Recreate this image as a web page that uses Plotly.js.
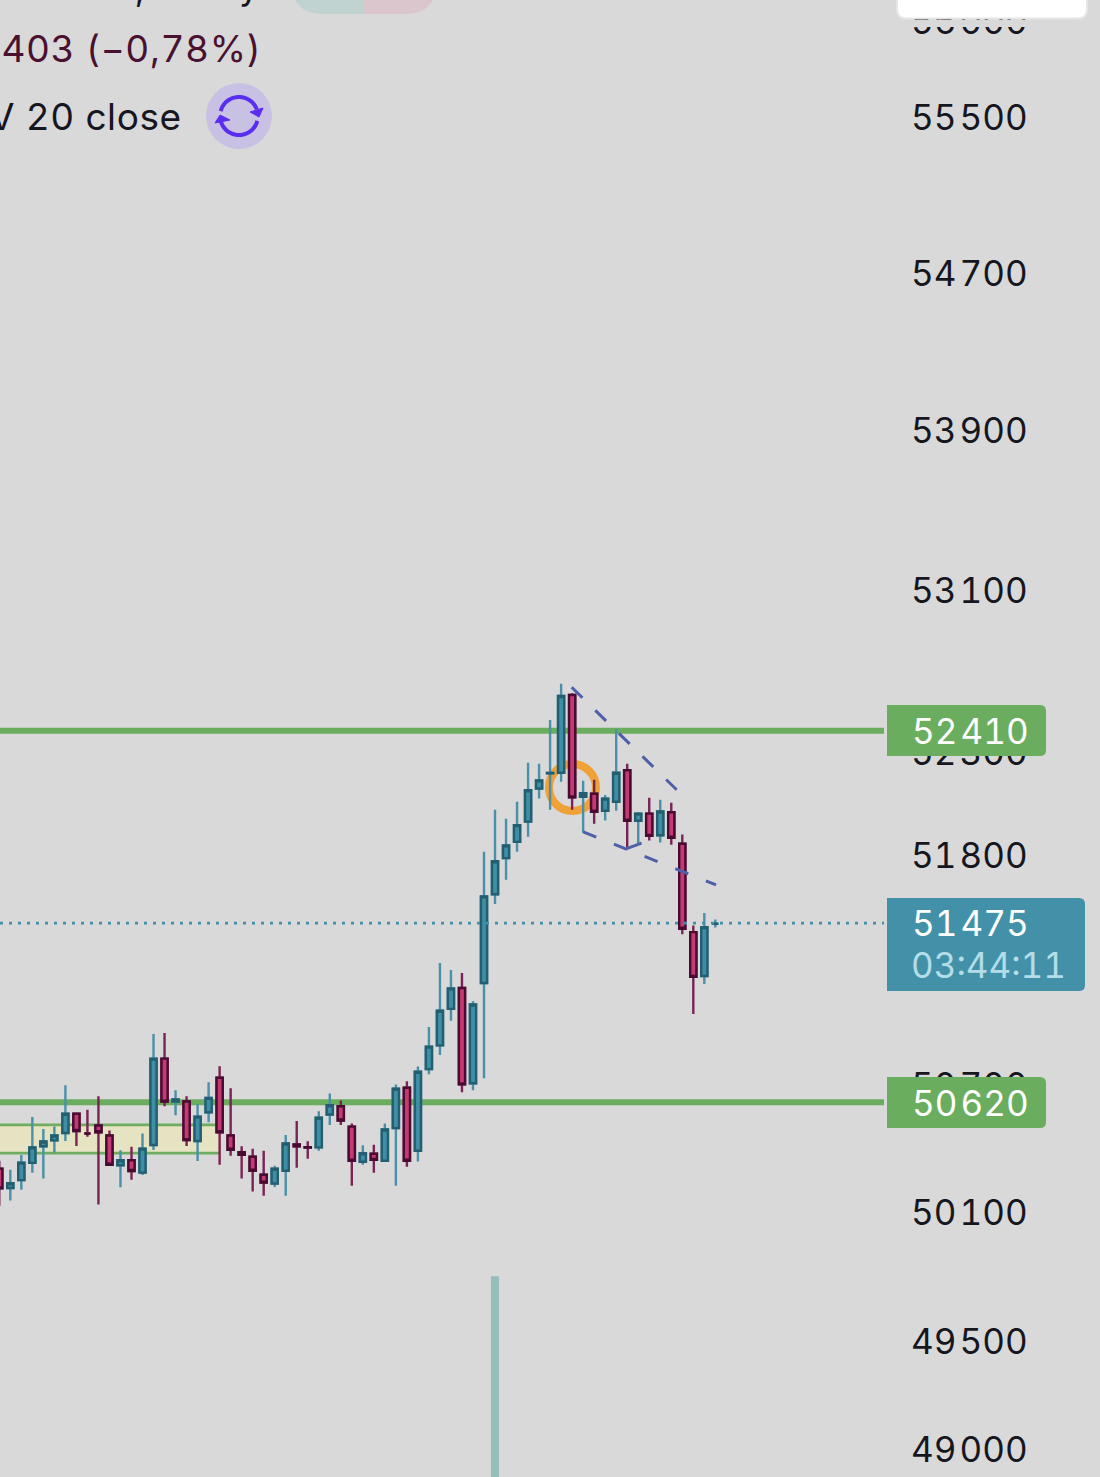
<!DOCTYPE html>
<html><head><meta charset="utf-8">
<script src="https://cdn.plot.ly/plotly-3.0.1.min.js"></script>
<style>html,body{margin:0;padding:0;background:#d9d9d9;overflow:hidden}#c{width:1100px;height:1477px}
svg text{font-variant-numeric:tabular-nums;font-feature-settings:"tnum" 1}
.annotation[data-index="4"] .annotation-text,.annotation[data-index="5"] .annotation-text{letter-spacing:0.6px}</style>
</head><body><div id="c"></div>
<script>
const high=[50344,50302,50371,50550,50494,50506,50701,50572,50585,50648,50487,50394,50410,50473,50944,50949,50677,50648,50611,50715,50791,50686,50412,50400,50391,50321,50465,50531,50436,50577,50662,50629,50520,50417,50419,50520,50704,50720,50790,50978,51284,51250,51236,51101,51820,52024,51980,52063,52253,52248,52462,52641,52594,52165,52170,52096,52418,52248,52013,52082,52073,52058,51903,51464,51524,51493];
const low=[50133,50157,50208,50288,50261,50383,50437,50413,50457,50139,50319,50219,50255,50277,50395,50601,50559,50413,50343,50526,50325,50368,50260,50200,50180,50220,50180,50311,50354,50391,50513,50513,50227,50325,50288,50338,50227,50316,50340,50753,50844,51007,50667,50677,50734,51567,51684,51820,51893,52078,52024,52160,52024,51912,51956,51971,52019,51840,51854,51874,51865,51854,51422,51040,51183,51454];
const open=[50313,50210,50247,50328,50406,50434,50469,50572,50467,50516,50469,50317,50352,50282,50412,50833,50617,50630,50431,50567,50742,50469,50390,50369,50284,50231,50291,50427,50414,50401,50556,50607,50511,50333,50383,50338,50492,50695,50385,50771,50884,51058,51170,50704,51182,51608,51783,51862,51960,52121,52196,52198,52591,52081,52108,52013,52057,52222,51964,52011,51894,52018,51865,51438,51215,51470];
const close=[50208,50244,50341,50413,50441,50469,50572,50478,50478,50472,50319,50352,50290,50407,50833,50617,50639,50435,50558,50647,50472,50390,50366,50291,50235,50312,50431,50406,50400,50553,50612,50528,50338,50385,50342,50497,50690,50338,50771,50890,51061,51168,50699,51091,51610,51780,51857,51955,52125,52173,52209,52586,52078,52110,52008,52084,52210,51964,52011,51891,52021,51882,51442,51211,51462,51475];
const candleIndex=high.map((_,i)=>i);
const levelA=52410, levelB=50620, lastPrice=51475;
const zoneTop=50513, zoneBottom=50380, zoneEnd=20;
const trendUpperX=[51.96,61.49], trendUpperY=[52623,52121];
const trendLowerX=[53.01,65.06], trendLowerY=[51916,51660];
const trendStubX=[56.95,58.3], trendStubY=[51835,51862];
const volumeX=[45], volumeY=[13.6];
const tickVals=[56000,55500,54700,53900,53100,52300,51800,50700,50100,49500,49000];
const tickText=tickVals.map(tickLabel);
function tickLabel(v){return String(v).slice(0,2)+'\u200A'+String(v).slice(2);}

const W=1100,H=1477,PW=884,STEP=11.016;
const px=x=>x/PW, py=y=>1-y/H;
const xLeft=0.7/STEP, xRight=(PW+0.7)/STEP;
const font='Inter, "Noto Sans", sans-serif';

function rr(x0,y0,x1,y1,rl,rr_){
  return `M${px(x0+rl)},${py(y0)} L${px(x1-rr_)},${py(y0)} Q${px(x1)},${py(y0)} ${px(x1)},${py(y0+rr_)} L${px(x1)},${py(y1-rr_)} Q${px(x1)},${py(y1)} ${px(x1-rr_)},${py(y1)} L${px(x0+rl)},${py(y1)} Q${px(x0)},${py(y1)} ${px(x0)},${py(y1-rl)} L${px(x0)},${py(y0+rl)} Q${px(x0)},${py(y0)} ${px(x0+rl)},${py(y0)} Z`;
}
function poly(p,close_){return p.map((q,i)=>(i?'L':'M')+px(q[0])+','+py(q[1])).join(' ')+(close_?' Z':'');}
function arc(cx,cy,r,a0,a1){const p=[];for(let k=0;k<=24;k++){const a=(a0+(a1-a0)*k/24)*Math.PI/180;p.push([cx+r*Math.cos(a),cy-r*Math.sin(a)]);}return p;}
const paper={xref:'paper',yref:'paper'};
const shp=(o)=>Object.assign({},paper,{layer:'above',line:{width:0}},o);
const dataBelow=(y0,y1,x0,x1,o)=>Object.assign({xref:'x',yref:'y',layer:'below',type:y0===y1?'line':'rect',x0,x1,y0,y1},o);
const shapes=[
  dataBelow(zoneBottom,zoneTop,xLeft,zoneEnd,{fillcolor:'#e6e3c3',line:{width:0}}),
  dataBelow(zoneTop,zoneTop,xLeft,zoneEnd,{line:{color:'#6fae62',width:2.6}}),
  dataBelow(zoneBottom,zoneBottom,xLeft,zoneEnd,{line:{color:'#6fae62',width:2.6}}),
  dataBelow(levelA,levelA,xLeft,xRight,{line:{color:'#6aad5e',width:6}}),
  dataBelow(levelB,levelB,xLeft,xRight,{line:{color:'#6aad5e',width:6}}),
  shp({type:'path',path:rr(897,-20,1087,18.5,9,9),fillcolor:'#ffffff',line:{color:'#e6e6e6',width:2}}),
  shp({type:'rect',x0:px(890),x1:px(1095),y0:py(27),y1:py(20),fillcolor:'#d9d9d9'}),
  shp({type:'path',path:`M${px(294)},${py(-2)} L${px(364)},${py(-2)} L${px(364)},${py(14)} L${px(322)},${py(14)} Q${px(302)},${py(14)} ${px(294)},${py(-2)} Z`,fillcolor:'#c0d3d0'}),
  shp({type:'path',path:`M${px(364)},${py(-2)} L${px(434)},${py(-2)} Q${px(426)},${py(14)} ${px(406)},${py(14)} L${px(364)},${py(14)} Z`,fillcolor:'#dcc6ce'}),
  shp({type:'circle',x0:px(206),x1:px(272),y0:py(149),y1:py(83),fillcolor:'#c9c1e3'}),
  shp({type:'path',path:poly(arc(239,116,19,165,20)),line:{color:'#5a2df0',width:4}}),
  shp({type:'path',path:poly(arc(239,116,19,345,195)),line:{color:'#5a2df0',width:4}}),
  shp({type:'path',path:poly([[263,108],[259,117],[250,112]],true),fillcolor:'#5a2df0',line:{color:'#5a2df0',width:1}}),
  shp({type:'path',path:poly([[215,123],[220,115],[230,120]],true),fillcolor:'#5a2df0',line:{color:'#5a2df0',width:1}}),
  shp({type:'circle',layer:'below',x0:px(549),x1:px(596),y0:py(811),y1:py(764),fillcolor:'rgba(0,0,0,0)',line:{color:'#f0a137',width:8}}),
  shp({type:'path',path:rr(887,705,1046,756,0,6),fillcolor:'#6aad5e'}),
  shp({type:'path',path:rr(887,1077,1046,1128,0,6),fillcolor:'#6aad5e'}),
  shp({type:'path',path:rr(887,898,1085,991,0,6),fillcolor:'#4391a9'})
];
const ann=(t,x,y,c,s)=>({text:t,x:px(x),y:py(y),xref:'paper',yref:'paper',xanchor:'left',yanchor:'middle',showarrow:false,borderpad:0,font:{family:font,size:s||35,color:c}});
const annotations=[
  ann(tickLabel(levelA),911,731,'#ffffff'),
  ann(tickLabel(levelB),911,1103,'#ffffff'),
  ann(tickLabel(lastPrice),911,923,'#ffffff'),
  ann('03:44:11',910,965,'#b4dde7',35),
  ann('403 (\u22120,78%)',4,48.5,'#4a1030',37),
  ann('V 20 close',-9,116.5,'#16161f',37),
  ann(',',134,-12,'#16161f',36),
  ann('y',238,-14,'#16161f',36)
];

/* The stroke of each body is centred on its edge, so the drawn edge sits inside the read one. */
const strokeInset=6;
const bodyOpen=open.map((o,i)=>{const c=close[i],m=(o+c)/2;return o>=c?Math.max(o-strokeInset,m):Math.min(o+strokeInset,m);});
const bodyClose=close.map((c,i)=>{const o=open[i],m=(o+c)/2;return c>o?Math.max(c-strokeInset,m):Math.min(c+strokeInset,m);});
const wick={type:'candlestick',x:candleIndex,open:bodyOpen,high,low,close:bodyClose,whiskerwidth:0,hoverinfo:'skip',
  increasing:{line:{color:'#4a90a8',width:2.4},fillcolor:'#3e8ea6'},
  decreasing:{line:{color:'#7a2355',width:2.4},fillcolor:'#c63a74'},showlegend:false};
const body={type:'candlestick',x:candleIndex,open:bodyOpen,close:bodyClose,
  high:bodyOpen.map((o,i)=>Math.max(o,bodyClose[i])),low:bodyOpen.map((o,i)=>Math.min(o,bodyClose[i])),
  whiskerwidth:0,hoverinfo:'skip',
  increasing:{line:{color:'#235f70',width:2.4},fillcolor:'#3e8ea6'},
  decreasing:{line:{color:'#4a0b32',width:2.4},fillcolor:'#c63a74'},showlegend:false};
const line=(x,y,color,width,dash)=>({type:'scatter',mode:'lines',x,y,hoverinfo:'skip',showlegend:false,line:{color,width,dash:dash||'solid'}});
const traces=[
  wick,body,
  line([xLeft,xRight],[lastPrice,lastPrice],'#4391a9',2.6,'3px,6px'),
  line(trendUpperX,trendUpperY,'#4f5fa8',3,'15px,18px'),
  line(trendLowerX,trendLowerY,'#4f5fa8',3,'14px,19px'),
  line(trendStubX,trendStubY,'#4f5fa8',3),
  {type:'bar',x:volumeX,y:volumeY,yaxis:'y2',width:0.73,marker:{color:'#93bfba',line:{width:0}},hoverinfo:'skip',showlegend:false}
];
const layout={
  width:W,height:H,margin:{l:0,r:W-PW,t:0,b:0,pad:0},
  paper_bgcolor:'#d9d9d9',plot_bgcolor:'#d9d9d9',showlegend:false,boxgap:0.2,
  xaxis:{range:[xLeft,xRight],showgrid:false,zeroline:false,showticklabels:false,ticks:'',showline:false,rangeslider:{visible:false},fixedrange:true},
  yaxis:{type:'log',side:'right',range:[Math.log10(48877),Math.log10(56116)],tickmode:'array',tickvals:tickVals,ticktext:tickText,
    ticks:'',showgrid:false,zeroline:false,showline:false,ticklabelstandoff:26,automargin:false,
    tickfont:{family:font,size:35,color:'#16161f'},fixedrange:true},
  yaxis2:{overlaying:'y',range:[0,100],visible:false,fixedrange:true},
  shapes,annotations
};
Plotly.newPlot('c',traces,layout,{displayModeBar:false,staticPlot:true});
</script></body></html>
